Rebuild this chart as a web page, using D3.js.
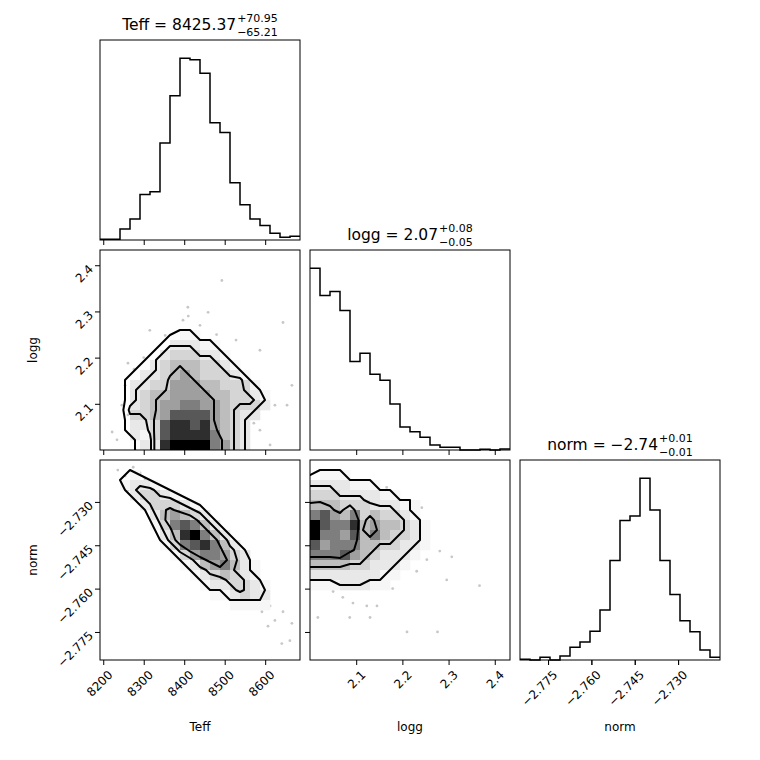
<!DOCTYPE html>
<html><head><meta charset="utf-8">
<script src="https://cdn.jsdelivr.net/npm/d3@7"></script>
<style>body{margin:0;background:#fff}text{font-family:"DejaVu Sans",sans-serif}</style>
</head><body><div class="vis"></div>
<script>
const width=760,height=760;

// parameters
const names=["Teff","logg","norm"];
const domains=[[8192,8686],[2.0,2.433],[-2.7847,-2.7155]];
const tickVals=[[8200,8300,8400,8500,8600],[2.1,2.2,2.3,2.4],[-2.775,-2.760,-2.745,-2.730]];
const tickFmt=[d3.format("d"),d3.format(".1f"),d=>d3.format(".3f")(d).replace("-","\u2212")];
const medians=["8425.37","2.07","\u22122.74"];
const errPlus=["+70.95","+0.08","+0.01"];
const errMinus=["\u221265.21","\u22120.05","\u22120.01"];

// 1d histograms, 20 bins
const histTeff=[2,2,33,63,136,144,290,431,543,538,498,350,321,171,105,63,43,20,8,11];
const histLogg=[545,463,475,418,265,290,227,209,138,69,55,38,15,8,8,0,0,2,0,3];
const histNorm=[2,0,8,0,12,38,54,86,150,298,418,432,545,450,298,196,118,85,30,8];

// 2d densities (20x20 bins, rows from top of panel, 0-9)
const densTeffLogg=[
"00000000000000000000","00000000000000000000","00000000000000000000","00000000000000000000",
"00000000000000000000","00000000000000000000","00000000000000000000","00000000000000000000",
"00000000110000000000","00000002221100000000","00000023332210000000","00000234443321000000",
"00002234543332100000","00022335554433310000","00023445555443321000","00023455665543332000",
"00033457777543220000","00022378878543200000","00021378888643200000","00002289999653200000"];
const densTeffNorm=[
"00000000000000000000","00010000000000000000","00122100000000000000","00023321000000000000",
"00002333210000000000","00000245432000000000","00000136764200000000","00000024896420000000",
"00000013678642000000","00000001356653200000","00000000124564210000","00000000012343210000",
"00000000001223321000","00000000000112322000","00000000000001111000","00000000000000000000",
"00000000000000000000","00000000000000000000","00000000000000000000","00000000000000000000"];
const densLoggNorm=[
"00000000000000000000","01110000000000000000","22221110000000000000","33322221100000000000",
"44433322211000000000","67546343321000000000","97668454432100000000","96657464332100000000",
"75666443322100000000","66675432221000000000","44443322210000000000","22222221100000000000",
"11122211000000000000","00000000000000000000","00000000000000000000","00000000000000000000",
"00000000000000000000","00000000000000000000","00000000000000000000","00000000000000000000"];

// samples outside the contours
const ptsTeffLogg=[[8493,2.367],[8409,2.309],[8459,2.298],[8644,2.276],[8397,2.281],[8353,2.248],[8427,2.242],[8464,2.238],[8501,2.205],[8528,2.238],[8587,2.216],[8550,2.168],[8261,2.188],[8276,2.175],[8254,2.140],[8278,2.108],[8246,2.097],[8261,2.076],[8582,2.140],[8600,2.119],[8624,2.097],[8654,2.097],[8572,2.058],[8222,2.039],[8234,2.022],[8587,2.043],[8612,2.011],[8666,2.140],[8315,2.259],[8439,2.270],[8410,2.290],[8480,2.250],[8520,2.190],[8560,2.120],[8300,2.200]];
const ptsTeffNorm=[[8236,-2.719],[8254,-2.721],[8274,-2.718],[8291,-2.720],[8246,-2.723],[8261,-2.726],[8303,-2.722],[8340,-2.731],[8377,-2.740],[8464,-2.746],[8476,-2.757],[8525,-2.760],[8538,-2.762],[8557,-2.763],[8575,-2.760],[8582,-2.765],[8592,-2.768],[8612,-2.766],[8624,-2.771],[8644,-2.768],[8666,-2.772],[8641,-2.779],[8661,-2.778],[8607,-2.773],[8538,-2.755]];
const ptsLoggNorm=[[2.022,-2.760],[2.050,-2.761],[2.071,-2.763],[2.093,-2.765],[2.123,-2.766],[2.145,-2.766],[2.086,-2.770],[2.017,-2.770],[2.130,-2.770],[2.179,-2.760],[2.231,-2.754],[2.253,-2.750],[2.281,-2.747],[2.307,-2.749],[2.296,-2.757],[2.367,-2.759],[2.210,-2.775],[2.276,-2.775],[2.166,-2.725],[2.190,-2.727],[2.242,-2.732],[2.227,-2.741]];

const hists=[histTeff,histLogg,histNorm];
const pairs=[
  {i:0,j:1,dens:densTeffLogg,pts:ptsTeffLogg},
  {i:0,j:2,dens:densTeffNorm,pts:ptsTeffNorm},
  {i:1,j:2,dens:densLoggNorm,pts:ptsLoggNorm}];

const x0=100,y0=40,ps=200,gap=10;
const px=c=>x0+c*(ps+gap), py=r=>y0+r*(ps+gap);

const svg=d3.select(".vis").append("svg").attr("width",width).attr("height",height);
const xs=names.map((n,k)=>d3.scaleLinear().domain(domains[k]).range([px(k),px(k)+ps]));
const ys=names.map((n,k)=>(r)=>d3.scaleLinear().domain(domains[k]).range([py(r)+ps,py(r)]));

// diagonal histograms
hists.forEach((h,k)=>{
  const g=svg.append("g");
  const bx=d3.scaleLinear().domain([0,h.length]).range([px(k),px(k)+ps]);
  const by=d3.scaleLinear().domain([0,d3.max(h)*1.1]).range([py(k)+ps,py(k)]);
  const line=[];
  h.forEach((v,b)=>{line.push([bx(b),by(v)]);line.push([bx(b+1),by(v)]);});
  g.append("path").attr("d",d3.line()(line)).attr("fill","none").attr("stroke","#000").attr("stroke-width",1.5);
  g.append("rect").attr("x",px(k)).attr("y",py(k)).attr("width",ps).attr("height",ps).attr("fill","none").attr("stroke","#000");
  const ax=g.append("g").attr("transform",`translate(0,${py(k)+ps})`).call(d3.axisBottom(xs[k]).tickValues(tickVals[k]).tickSize(5).tickFormat(""));
  ax.select(".domain").remove();
  // title: main text plus stacked errors, centred as a whole
  const t=svg.append("text").attr("y",py(k)-10).attr("font-size",15.5).text(`${names[k]} = ${medians[k]}`);
  const sp=svg.append("text").attr("y",py(k)-18).attr("font-size",11).text(errPlus[k]);
  const sm=svg.append("text").attr("y",py(k)-4).attr("font-size",11).text(errMinus[k]);
  const w=t.node().getComputedTextLength();
  const we=Math.max(sp.node().getComputedTextLength(),sm.node().getComputedTextLength());
  const start=px(k)+ps/2-(w+we+1)/2;
  t.attr("x",start); sp.attr("x",start+w+1); sm.attr("x",start+w+1);
});

const grey=v=>{const s=Math.pow(v/9,1.7);const c=Math.round(252*(1-s));return `rgb(${c},${c},${c})`;};

pairs.forEach(p=>{
  const sx=xs[p.i], sy=ys[p.j](p.j);
  const X0=px(p.i), Y0=py(p.j);
  const g=svg.append("g");
  const clipId="clip"+p.i+p.j;
  svg.append("clipPath").attr("id",clipId).append("rect").attr("x",X0).attr("y",Y0).attr("width",ps).attr("height",ps);
  g.attr("clip-path",`url(#${clipId})`);
  const gx=d3.scaleLinear().domain([0,20]).range([X0,X0+ps]);
  const gy=d3.scaleLinear().domain([0,20]).range([Y0,Y0+ps]);
  const vals=[];
  p.dens.forEach(row=>row.padEnd(20,"0").slice(0,20).split("").forEach(ch=>vals.push(+ch)));
  // points
  g.selectAll("circle").data(p.pts).enter().append("circle")
    .attr("cx",d=>sx(d[0])).attr("cy",d=>sy(d[1])).attr("r",1.4).attr("fill","#000").attr("opacity",0.22);
  // grey cells
  vals.forEach((v,k)=>{ if(v>0) g.append("rect").attr("x",gx(k%20)).attr("y",gy(Math.floor(k/20)))
    .attr("width",gx(1)-gx(0)+0.3).attr("height",gy(1)-gy(0)+0.3).attr("fill",grey(v)); });
  // contours on padded grid so edges close outside panel
  const n=22,pad=[];
  for(let r=0;r<n;r++)for(let c=0;c<n;c++){
    const rr=Math.min(19,Math.max(0,r-1)),cc=Math.min(19,Math.max(0,c-1));
    pad.push(vals[rr*20+cc]);
  }
  const cs=d3.contours().size([n,n]).thresholds([1.0,2.6,4.6])(pad);
  const tx=d3.geoTransform({point:function(x,y){this.stream.point(gx(x-1.5),gy(y-1.5));}});
  g.selectAll("path.c").data(cs).enter().append("path").attr("class","c")
    .attr("d",d3.geoPath(tx)).attr("fill","none").attr("stroke","#000").attr("stroke-width",2).attr("stroke-linejoin","round");
  svg.append("rect").attr("x",X0).attr("y",Y0).attr("width",ps).attr("height",ps).attr("fill","none").attr("stroke","#000");
  // axes
  const bx=svg.append("g").attr("transform",`translate(0,${Y0+ps})`).call(d3.axisBottom(sx).tickValues(tickVals[p.i]).tickSize(5).tickFormat(p.j===2?tickFmt[p.i]:""));
  bx.select(".domain").remove();
  const lx=svg.append("g").attr("transform",`translate(${X0},0)`).call(d3.axisLeft(sy).tickValues(tickVals[p.j]).tickSize(5).tickFormat(p.i===0?tickFmt[p.j]:""));
  lx.select(".domain").remove();
  [bx,lx].forEach(a=>a.selectAll("text").attr("font-size",12).attr("font-family","DejaVu Sans").attr("fill","#000"));
  if(p.j===2) bx.selectAll("text").attr("text-anchor","end").attr("dy",0).attr("transform","translate(4,10) rotate(-45)");
  if(p.i===0) lx.selectAll("text").attr("text-anchor","end").attr("dy",0).attr("x",0).attr("transform","translate(-6,4) rotate(-45)");
});

// norm histogram x labels
const nx=svg.append("g").attr("transform",`translate(0,${py(2)+ps})`).call(d3.axisBottom(xs[2]).tickValues(tickVals[2]).tickSize(5).tickFormat(tickFmt[2]));
nx.select(".domain").remove();
nx.selectAll("text").attr("font-size",12).attr("font-family","DejaVu Sans").attr("fill","#000").attr("text-anchor","end").attr("dy",0).attr("transform","translate(4,10) rotate(-45)");

// axis labels
names.forEach((n,k)=>{
  svg.append("text").attr("x",px(k)+ps/2).attr("y",731).attr("text-anchor","middle").attr("font-size",12).text(n);
});
[1,2].forEach(k=>{
  svg.append("text").attr("transform",`translate(37,${py(k)+ps/2}) rotate(-90)`).attr("text-anchor","middle").attr("font-size",12).text(names[k]);
});
</script></body></html>
